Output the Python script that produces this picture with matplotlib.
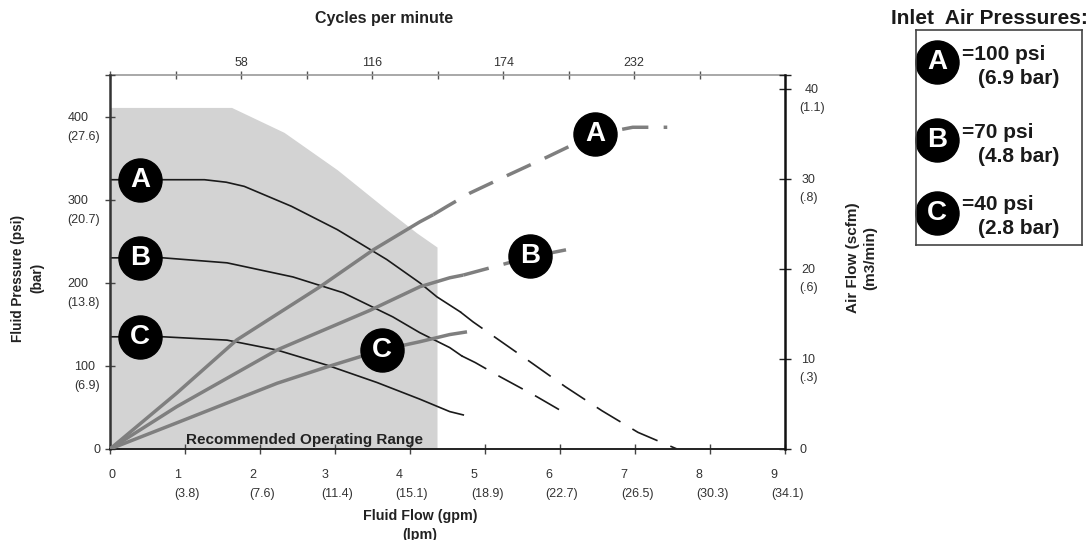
import matplotlib
matplotlib.use("Agg")
import matplotlib.pyplot as plt

plt.rcParams['font.family'] = ['Liberation Sans', 'DejaVu Sans']
plt.rcParams['lines.scale_dashes'] = False

# Recommended operating range (gpm, psi)
range_gpm = [0, 1.62, 1.97, 2.32, 3.03, 3.69, 4.09, 4.36]
range_psi = [411, 411, 396, 381, 336, 288, 260, 243]

# Fluid pressure curves (gpm, psi) - solid part and dashed part
pA_gpm = [0, 0.66, 1.26, 1.55, 1.79, 2.42, 3.03, 3.69, 4.13, 4.36, 4.67]
pA_psi = [324, 324, 324, 321, 316, 292, 264, 228, 200, 183, 165]
pA_dash_gpm = [4.67, 4.84, 5.60, 6.07, 6.56, 7.04, 7.56]
pA_dash_psi = [165, 153, 105, 75, 46, 20, 0]

pB_gpm = [0, 0.71, 1.56, 2.44, 3.11, 3.77, 4.13, 4.53, 4.69]
pB_psi = [230, 230, 224, 207, 188, 159, 140, 122, 112]
pB_dash_gpm = [4.69, 4.87, 5.20, 5.69, 6.11]
pB_dash_psi = [112, 104, 87, 63, 41]

pC_gpm = [0, 0.71, 1.56, 2.23, 2.89, 3.56, 4.13, 4.53, 4.71]
pC_psi = [135, 135, 131, 119, 101, 80, 60, 45, 41]

# Air flow curves (gpm, scfm)
aA_gpm = [0, 0.89, 1.69, 2.8, 3.51, 4.13, 4.31]
aA_scfm = [0, 6.2, 12.1, 18.0, 22.1, 25.2, 26.0]
aA_dash_gpm = [4.31, 4.49, 4.80, 5.31, 5.83, 6.23, 6.47, 6.97, 7.43]
aA_dash_scfm = [26.0, 26.9, 28.4, 30.4, 32.4, 34.0, 34.9, 35.7, 35.7]

aB_gpm = [0, 0.89, 2.23, 3.47, 4.13, 4.53, 4.71]
aB_scfm = [0, 4.7, 11.0, 15.4, 18.0, 19.0, 19.3]
aB_dash_gpm = [4.71, 5.60, 6.08]
aB_dash_scfm = [19.3, 21.3, 22.1]

aC_gpm = [0, 0.89, 2.23, 2.89, 3.63, 4.13, 4.53, 4.76]
aC_scfm = [0, 2.9, 7.3, 9.1, 11.0, 11.9, 12.7, 13.0]

# circle labels
p_labels = ['A', 'B', 'C']
p_label_gpm = [0.4, 0.4, 0.4]
p_label_psi = [324, 230, 135]
a_label_gpm = [6.47, 5.6, 3.63]
a_label_scfm = [34.9, 21.4, 11.0]

# tick labels
gpm_ticks = [0, 1, 2, 3, 4, 5, 6, 7, 8, 9]
gpm_labels = ['0', '1\n(3.8)', '2\n(7.6)', '3\n(11.4)', '4\n(15.1)', '5\n(18.9)',
              '6\n(22.7)', '7\n(26.5)', '8\n(30.3)', '9\n(34.1)']
psi_ticks = [0, 100, 200, 300, 400]
psi_labels = ['0', '100\n(6.9)', '200\n(13.8)', '300\n(20.7)', '400\n(27.6)']
psi_top = 450
scfm_ticks = [0, 10, 20, 30, 40]
scfm_labels = ['0', '10\n(.3)', '20\n(.6)', '30\n(.8)', '40\n(1.1)']
scfm_top = 41.5
cpm_ticks = [0, 29, 58, 87, 116, 145, 174, 203, 232, 261]
cpm_labels = ['', '', '58', '', '116', '', '174', '', '232', '']
cycles_per_gpm = 33.2

legend_main = ['=100 psi', '=70 psi', '=40 psi']
legend_sub = ['(6.9 bar)', '(4.8 bar)', '(2.8 bar)']

tick_color = '#333333'
air_color = '#7f7f7f'
line_color = '#1a1a1a'
title_color = '#222222'

fig = plt.figure(figsize=(10.92, 5.4), dpi=100)
ax = fig.add_axes([110 / 1092, 91 / 540, 675 / 1092, 374 / 540])
ax.set_xlim(0, 9)
ax.set_ylim(0, psi_top)

ax.fill_between(range_gpm, range_psi, 0, color='#d3d3d3', lw=0, zorder=0)
ax.text(2.6, 2, 'Recommended Operating Range', ha='center', va='bottom',
        fontsize=11, fontweight='bold', color=title_color, zorder=3)

# pressure curves
for g, p in [(pA_gpm, pA_psi), (pB_gpm, pB_psi), (pC_gpm, pC_psi)]:
    ax.plot(g, p, color=line_color, lw=1.2, zorder=2)
for g, p in [(pA_dash_gpm, pA_dash_psi), (pB_dash_gpm, pB_dash_psi)]:
    ax.plot(g, p, color=line_color, lw=1.2, dashes=(20, 10), zorder=2)

ax.plot(p_label_gpm, p_label_psi, 'o', ms=31, mfc='black', mec='black', zorder=4)
for lab, g, p in zip(p_labels, p_label_gpm, p_label_psi):
    ax.text(g, p, lab, color='white', fontsize=20, fontweight='bold',
            ha='center', va='center', zorder=5)

# spines & ticks
ax.spines['top'].set_visible(False)
ax.spines['right'].set_visible(False)
ax.spines['left'].set_color('#333333')
ax.spines['left'].set_linewidth(1.8)
ax.spines['bottom'].set_color('#222222')
ax.spines['bottom'].set_linewidth(1.4)
ax.set_xticks(gpm_ticks)
ax.set_xticklabels([])
ax.set_yticks(psi_ticks + [psi_top])
ax.set_yticklabels([])
ax.tick_params(axis='both', direction='inout', length=7, width=1, colors='#444444')

for v, lab in zip(gpm_ticks, gpm_labels):
    ax.annotate(lab, xy=(v, 0), xycoords=ax.get_xaxis_transform(),
                xytext=(2, -20), textcoords='offset pixels', ha='center', va='top',
                multialignment='left', fontsize=9, color=tick_color, linespacing=1.75)
for v, lab in zip(psi_ticks, psi_labels):
    ax.annotate(lab, xy=(0, v), xycoords=ax.get_yaxis_transform(),
                xytext=(-10, 5), textcoords='offset pixels', ha='right', va='top',
                multialignment='left', fontsize=9, color=tick_color, linespacing=1.8)

# top axis: cycles per minute
secax = ax.secondary_xaxis('top', functions=(lambda g: g * cycles_per_gpm,
                                             lambda c: c / cycles_per_gpm))
secax.set_xticks(cpm_ticks)
secax.set_xticklabels(cpm_labels)
secax.tick_params(direction='inout', length=6, width=1, colors='#555555',
                  labelcolor=tick_color, labelsize=9, pad=1)
secax.spines['top'].set_color('#999999')
secax.spines['top'].set_linewidth(1.2)

# air flow axis
ax2 = ax.twinx()
ax2.set_ylim(0, scfm_top)
ax2.set_yticks(scfm_ticks + [scfm_top])
ax2.set_yticklabels([])
ax2.tick_params(axis='y', direction='inout', length=8, width=1, colors='#222222')
for s in ['top', 'left', 'bottom']:
    ax2.spines[s].set_visible(False)
ax2.spines['right'].set_color('#111111')
ax2.spines['right'].set_linewidth(1.8)
for v, lab in zip(scfm_ticks, scfm_labels):
    ax2.annotate(lab, xy=(1, v), xycoords=ax2.get_yaxis_transform(),
                 xytext=(14, 5), textcoords='offset pixels', ha='left', va='top',
                 multialignment='center', fontsize=9, color=tick_color, linespacing=1.7)

for g, a in [(aA_gpm, aA_scfm), (aB_gpm, aB_scfm), (aC_gpm, aC_scfm)]:
    ax2.plot(g, a, color=air_color, lw=2.5, solid_capstyle='butt', zorder=2)
for g, a in [(aA_dash_gpm, aA_dash_scfm), (aB_dash_gpm, aB_dash_scfm)]:
    ax2.plot(g, a, color=air_color, lw=2.5, dashes=(19, 11), dash_capstyle='butt', zorder=2)

ax2.plot(a_label_gpm, a_label_scfm, 'o', ms=31, mfc='black', mec='black', zorder=4)
for lab, g, a in zip(p_labels, a_label_gpm, a_label_scfm):
    ax2.text(g, a, lab, color='white', fontsize=20, fontweight='bold',
             ha='center', va='center', zorder=5)

# axis titles
fig.text(384 / 1092, 1 - 18 / 540, 'Cycles per minute', ha='center', va='center',
         fontsize=11.5, fontweight='bold', color=title_color)
fig.text(420 / 1092, 1 - 509 / 540, 'Fluid Flow (gpm)\n(lpm)', ha='center', va='top',
         fontsize=10.3, fontweight='bold', color=title_color, linespacing=1.45)
fig.text(28 / 1092, 1 - 278 / 540, 'Fluid Pressure (psi)\n(bar)', ha='center', va='center',
         rotation=90, fontsize=9.8, fontweight='bold', color=title_color, linespacing=1.5)
fig.text(862 / 1092, 1 - 258 / 540, 'Air Flow (scfm)\n(m3/min)', ha='center', va='center',
         rotation=90, fontsize=11, fontweight='bold', color=title_color, linespacing=1.3)

# legend box
fig.text(989 / 1092, 1 - 18 / 540, 'Inlet  Air Pressures:', ha='center', va='center',
         fontsize=15, fontweight='bold', color='#1a1a1a')
leg = fig.add_axes([916 / 1092, 1 - 245 / 540, 166 / 1092, 215 / 540])
leg.set_xlim(0, 166)
leg.set_ylim(215, 0)
leg.set_xticks([])
leg.set_yticks([])
for s in leg.spines.values():
    s.set_color('#444444')
    s.set_linewidth(1.2)
leg_y = [32, 110, 183]
for lab, y, m, sub in zip(p_labels, leg_y, legend_main, legend_sub):
    leg.plot([21], [y], 'o', ms=31, mfc='black', mec='black', clip_on=False)
    leg.text(21, y, lab, color='white', fontsize=20, fontweight='bold',
             ha='center', va='center')
    leg.text(46, y - 8, m, fontsize=15, fontweight='bold', color='#1a1a1a',
             ha='left', va='center')
    leg.text(62, y + 16, sub, fontsize=15, fontweight='bold', color='#1a1a1a',
             ha='left', va='center')

fig.savefig('out.png', dpi=100)
